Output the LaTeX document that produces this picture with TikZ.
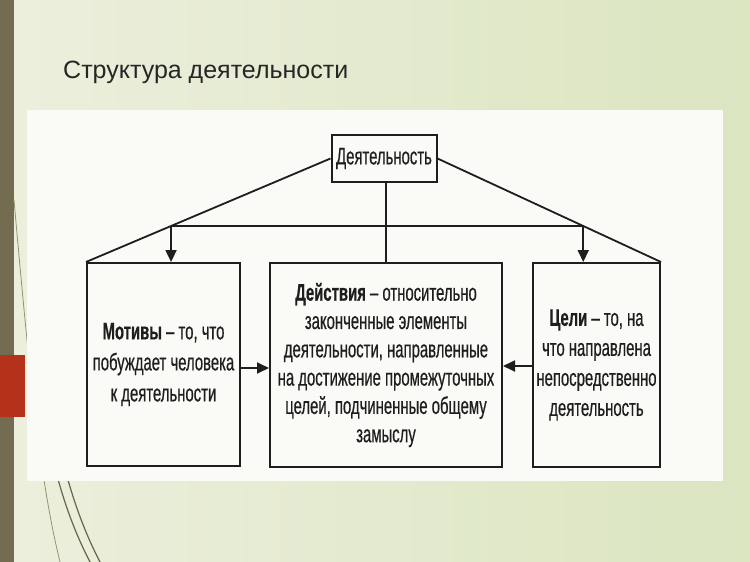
\documentclass[tikz,border=0pt]{standalone}
\usepackage{fontspec}
\setmainfont{Liberation Sans}
\newfontfamily\narrowfont[FakeStretch=0.62,FakeBold=0.5]{Liberation Sans}
\usetikzlibrary{arrows.meta}

\definecolor{bgleft}{RGB}{236,239,221}
\definecolor{bgright}{RGB}{219,229,192}
\definecolor{stripe}{RGB}{116,108,80}
\definecolor{redbar}{RGB}{180,50,26}
\definecolor{scan}{RGB}{250,250,247}
\definecolor{ink}{RGB}{30,30,30}
\definecolor{olive}{RGB}{106,100,72}
\definecolor{olivelight}{RGB}{150,146,110}
\definecolor{titlecol}{RGB}{38,38,38}

\begin{document}
\begin{tikzpicture}[x=1pt,y=-1pt,
  box/.style={draw=ink, line width=2pt, inner sep=0pt, align=center, text=ink},
  conn/.style={draw=ink, line width=1.8pt},
  arr/.style={conn, -{Triangle[length=12pt,width=11pt]}},
  deco/.style={line width=1.2pt, olive},
  decolight/.style={line width=0.8pt, olivelight}]
\useasboundingbox (0,0) rectangle (750,562);
\shade[left color=bgleft, right color=bgright] (0,0) rectangle (750,562);
\fill[stripe] (0,0) rectangle (14,562);
\fill[redbar] (0,355) rectangle (25,417);
% decorative arcs
\draw[decolight] (14,200) .. controls (30,380) and (40,480) .. (60,562);
\draw[deco] (28,300) .. controls (42,430) and (58,500) .. (90,562);
\draw[deco] (34,300) .. controls (52,430) and (68,500) .. (100,562);
% scanned sheet
\fill[scan] (27,110) rectangle (723,481);

\node[anchor=base west, font=\fontsize{25}{30}\selectfont, text=titlecol, inner sep=0pt] (title) at (63,78) {Структура деятельности};

\node[box, minimum width=105pt, minimum height=47pt,
      font=\narrowfont\fontsize{24}{28}\selectfont] (act) at (384,158.5) {Деятельность};

\node[box, minimum width=153pt, minimum height=203pt,
      font=\narrowfont\fontsize{24}{31}\selectfont] (mot) at (163.5,364.5)
  {\textbf{Мотивы} – то, что\\побуждает человека\\к деятельности};

\node[box, minimum width=232pt, minimum height=204pt,
      font=\narrowfont\fontsize{24}{28.3}\selectfont] (deist) at (386,365)
  {\textbf{Действия} – относительно\\законченные элементы\\деятельности, направленные\\на достижение промежуточных\\целей, подчиненные общему\\замыслу};

\node[box, minimum width=127pt, minimum height=204pt,
      font=\narrowfont\fontsize{24}{30}\selectfont] (goal) at (596.5,365)
  {\textbf{Цели} – то, на\\что направлена\\непосредственно\\деятельность};

\coordinate (h1) at (0,226);
\coordinate (h2) at (750,226);
\draw[conn] (act.west) -- (mot.north west);
\draw[conn] (act.east) -- (goal.north east);
\draw[conn] (act.south -| deist.north) -- (deist.north);
\coordinate (hl) at (intersection of act.west--mot.north west and h1--h2);
\coordinate (hr) at (intersection of act.east--goal.north east and h1--h2);
\draw[conn] (hl) -- (hr);
\draw[arr] (hl) -- (hl |- mot.north);
\draw[arr] (hr) -- (hr |- goal.north);
\draw[arr] ([yshift=-3.5pt]mot.east) -- ([yshift=-3.5pt]mot.east -| deist.west);
\draw[arr] ([yshift=-1pt]goal.west) -- ([yshift=-1pt]goal.west -| deist.east);
\end{tikzpicture}
\end{document}
